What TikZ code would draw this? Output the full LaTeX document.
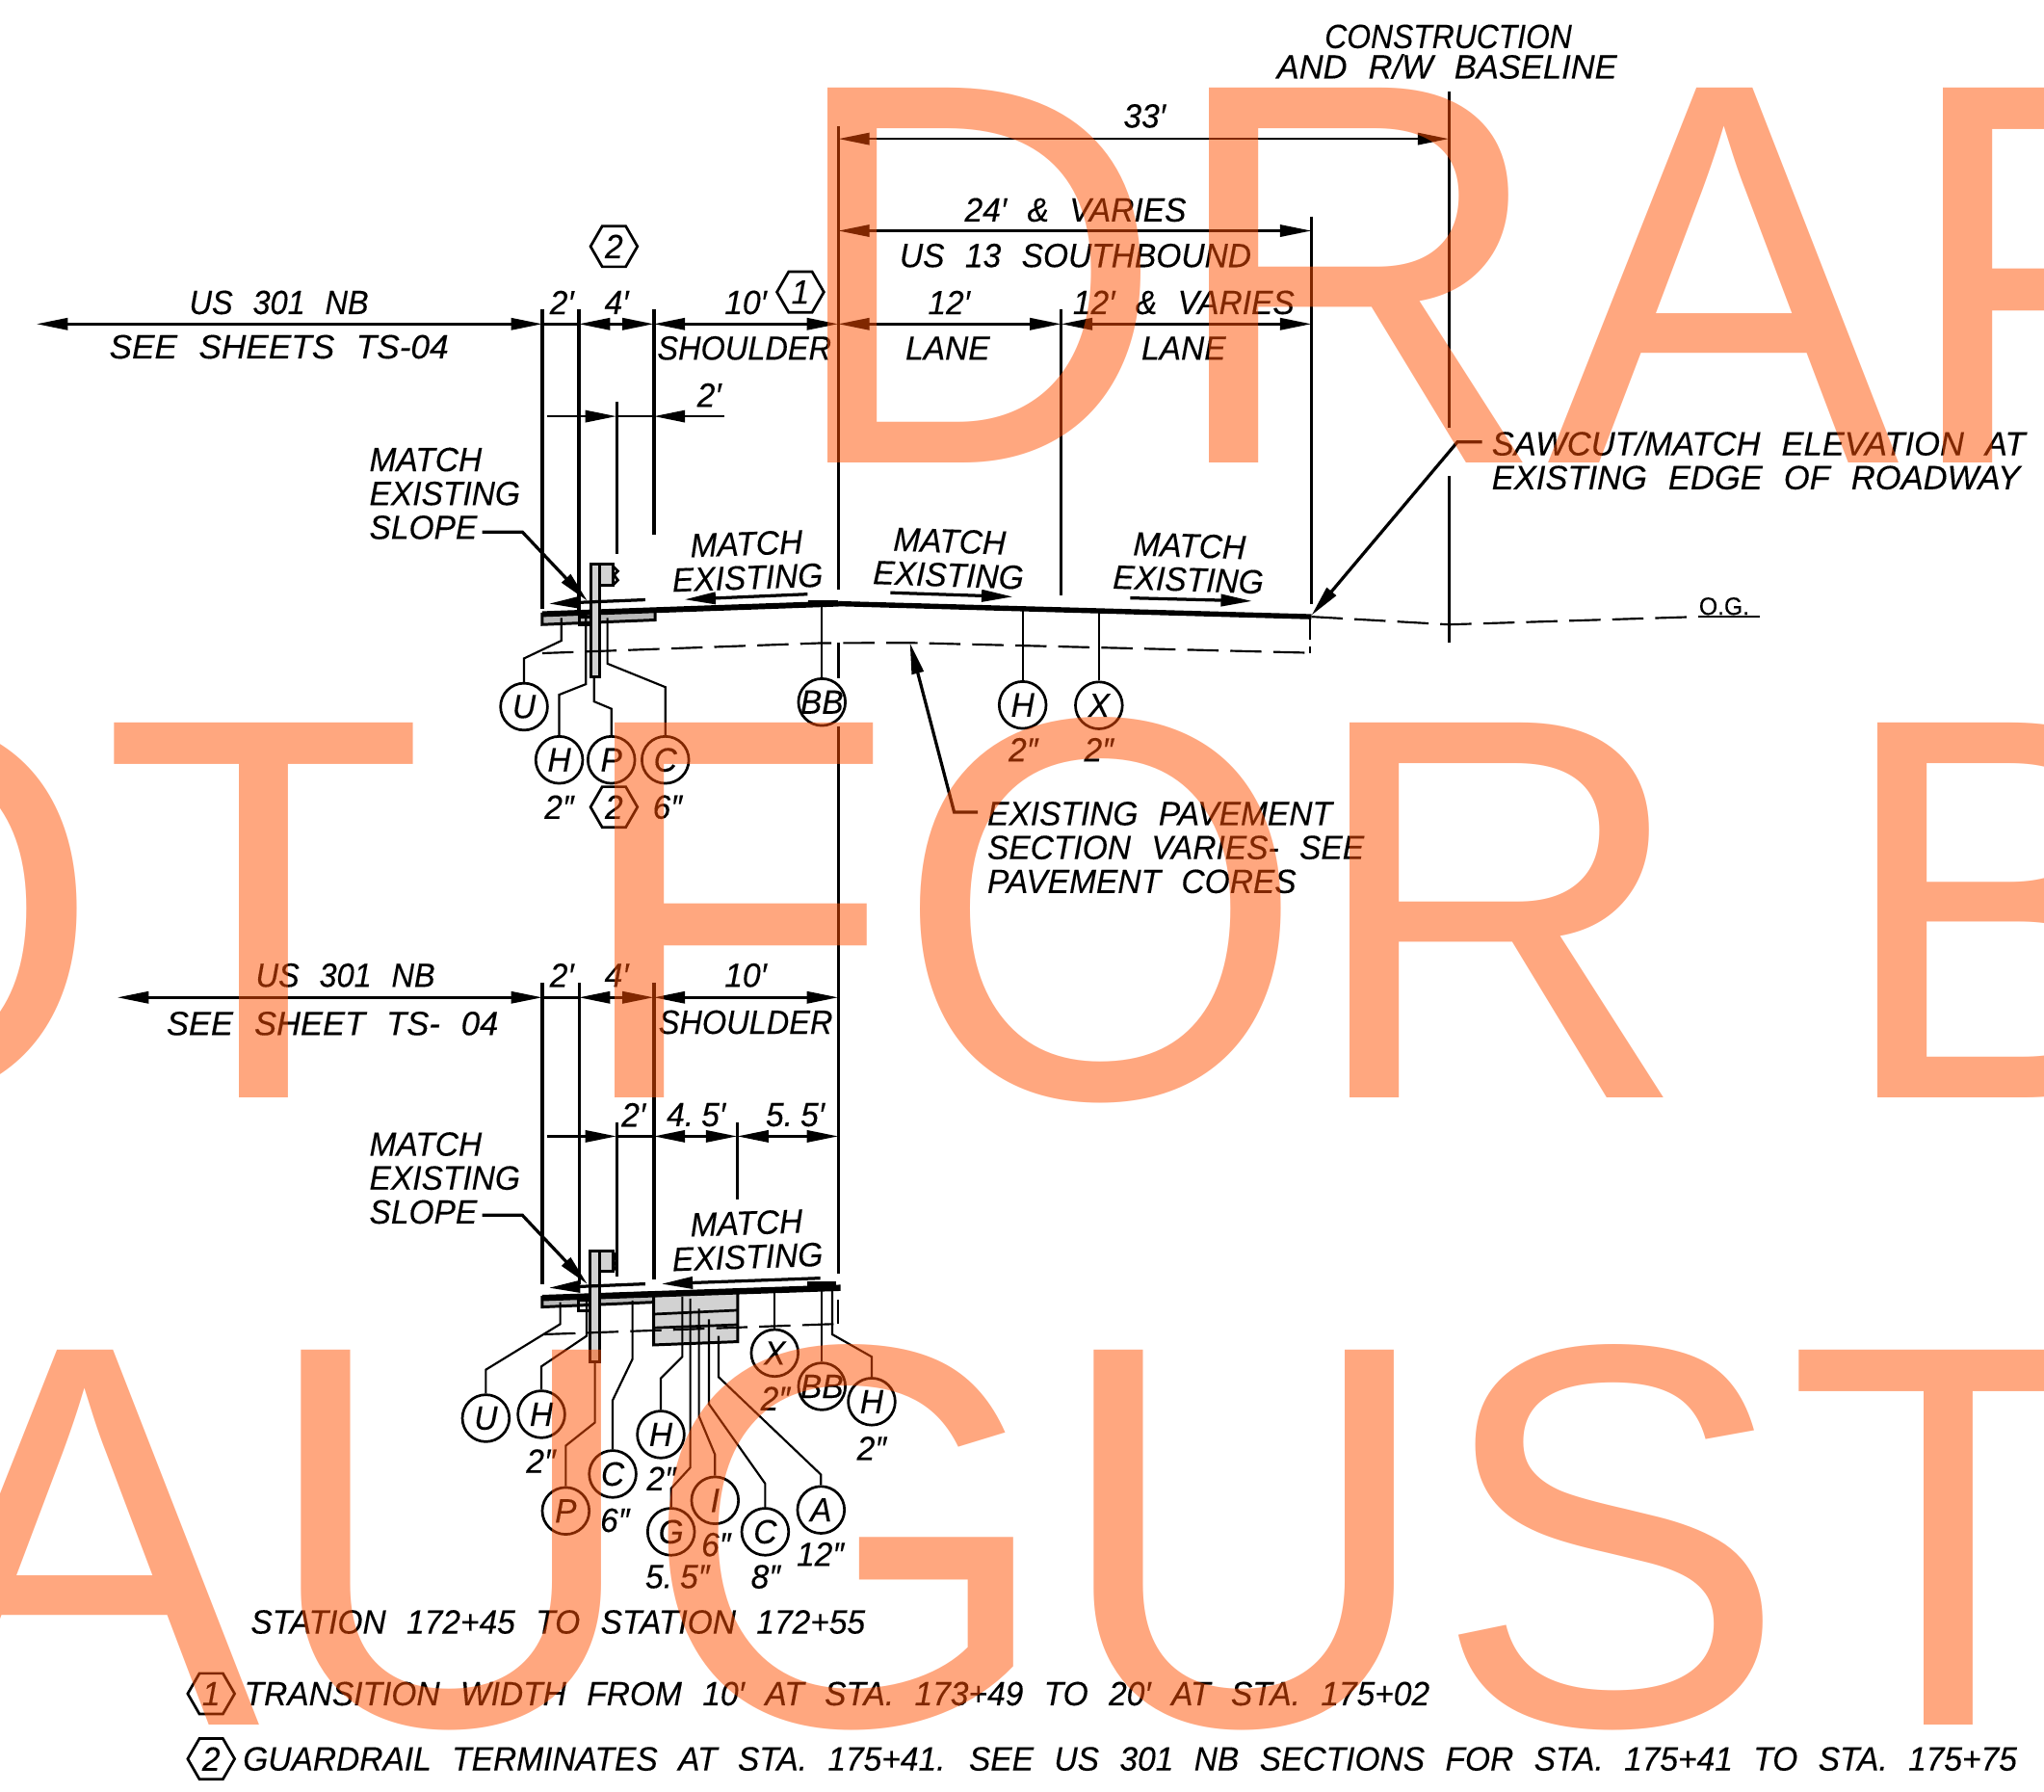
\documentclass[tikz,border=0pt]{standalone}
\usepackage{fontspec}
\setmainfont{Liberation Sans}[FakeStretch=0.96,WordSpace=2.3,FakeBold=0.25]
\newfontfamily\wmfont{Liberation Sans}
\usepackage{tikz}
\usetikzlibrary{arrows.meta,shapes.geometric}
\definecolor{wmark}{RGB}{255,79,0}
\tikzset{
  lbl/.style={inner sep=0pt,font=\fontsize{12.9}{13}\selectfont\itshape,align=left},
  tag/.style={circle,draw,line width=1pt,minimum size=18pt,inner sep=0pt,font=\fontsize{12.9}{13}\selectfont\itshape},
  hexmark/.style={regular polygon,regular polygon sides=6,draw,line width=1pt,minimum size=18pt,inner sep=0pt,font=\fontsize{12.9}{13}\selectfont\itshape},
  extln/.style={line width=1.2pt},
  dimln/.style={line width=1pt,<->},
  plainln/.style={line width=1pt},
  leader/.style={line width=.8pt},
  slopeln/.style={line width=1.2pt,->},
  exdash/.style={line width=.8pt,dash pattern=on 12pt off 4.5pt},
  part/.style={draw,line width=1.1pt,fill=gray!35},
  wm/.style={anchor=base west,inner sep=0pt,text=wmark,text opacity=.5,xscale=.97,transform shape,font=\wmfont\fontsize{209}{209}\selectfont}
}
\begin{document}
\begin{tikzpicture}[x=.5pt,y=-.5pt,>={Triangle[length=12pt,width=4.5pt]}]
  \useasboundingbox (0,0) rectangle (1568,1374);
  \clip (0,0) rectangle (1568,1374);

  % extension lines
  \coordinate (xa) at (416,0);
  \coordinate (xb) at (444,0);
  \coordinate (xc) at (473,0);
  \coordinate (xd) at (501.5,0);
  \coordinate (xk) at (565.5,0);
  \coordinate (xe) at (643,0);
  \coordinate (xf) at (814,0);
  \coordinate (xg) at (1006,0);
  \coordinate (xh) at (1111.5,0);
  \coordinate (ra) at (0,106.5);
  \coordinate (rb) at (0,177);
  \coordinate (rc) at (0,248.5);
  \coordinate (rd) at (0,319.3);
  \coordinate (re) at (0,765);
  \coordinate (rf) at (0,871.5);

  \draw[extln] (416,237) -- (416,467);
  \draw[extln,line width=1.4pt] (444,237) -- (444,470);
  \draw[extln] (473,308) -- (473,425);
  \draw[extln,line width=1.4pt] (501.5,237) -- (501.5,410);
  \draw[extln] (643,97) -- (643,452);
  \draw[extln] (643,493) -- (643,520);
  \draw[extln] (643,557) -- (643,977);
  \draw[extln] (814,237) -- (814,457);
  \draw[extln] (1006,166) -- (1006,463);
  \draw[extln] (1111.5,70) -- (1111.5,328);
  \draw[extln] (1111.5,365) -- (1111.5,493);
  \draw[extln] (416,754) -- (416,985);
  \draw[extln,line width=1.4pt] (444.5,754) -- (444.5,985);
  \draw[extln] (473,861) -- (473,979);
  \draw[extln,line width=1.4pt] (501.5,754) -- (501.5,981);
  \draw[extln] (565.5,861) -- (565.5,920);

  % dimension rows
  \draw[dimln] (xe |- ra) -- (xh |- ra);
  \draw[dimln] (xe |- rb) -- (xg |- rb);
  \draw[dimln] (28,248.5) -- (xa |- rc);
  \draw[plainln] (xa |- rc) -- (xb |- rc);
  \draw[dimln] (xb |- rc) -- (xd |- rc);
  \draw[dimln] (xd |- rc) -- (xe |- rc);
  \draw[dimln] (xe |- rc) -- (xf |- rc);
  \draw[dimln] (xf |- rc) -- (xg |- rc);
  \draw[plainln,->] (420,319.3) -- (xc |- rd);
  \draw[plainln] (xc |- rd) -- (xd |- rd);
  \draw[plainln,->] (555.5,319.3) -- (xd |- rd);
  \draw[dimln] (90,765) -- (xa |- re);
  \draw[plainln] (xa |- re) -- (xb |- re);
  \draw[dimln] (xb |- re) -- (xd |- re);
  \draw[dimln] (xd |- re) -- (xe |- re);
  \draw[plainln,->] (420,871.5) -- (xc |- rf);
  \draw[plainln] (xc |- rf) -- (xd |- rf);
  \draw[dimln] (xd |- rf) -- (xk |- rf);
  \draw[dimln] (xk |- rf) -- (xe |- rf);

  % upper section
  \draw[part,fill=gray!55] (416,471) -- (502.5,467.5) -- (502.5,475.5) -- (416,479) -- cycle;
  \draw[part,fill=none] (444.6,473) rectangle (453,479);
  \draw[line width=2.2pt] (416,471) -- (643,463);
  \draw[line width=2pt] (643,463) -- (1006,473);
  \fill (620,460) rectangle (643,463.5);
  \draw[part] (453,433) rectangle (460,519);
  \draw[part] (460,433) rectangle (470,449);
  \draw[plainln] (470,434) -- (474,438) -- (471,441) -- (474,445) -- (470,449);
  \draw[exdash] (416,501) -- (630,493.2) -- (697.6,493) -- (1005,500.7);
  \draw[leader] (1005,473) -- (1005,491);
  \draw[leader] (1005,496) -- (1005,501);
  \draw[exdash] (1006,473) -- (1111.5,479) -- (1303,473);
  \draw[leader] (1303,473) -- (1350,473);
  \node[inner sep=0pt,anchor=base west,font=\fontsize{9.5}{10}\selectfont] (oglbl) at (1303,471.5) {O.G.};
  \draw[slopeln] (495,460) -- (421,463);
  \draw[slopeln] (619.5,455.7) -- (525,459.8);
  \draw[slopeln] (683,454.6) -- (777,457.7);
  \draw[slopeln] (867,458.6) -- (960.6,461);

  \node[tag] (tagU) at (402,542) {U};
  \node[tag] (tagH) at (429,582.8) {H};
  \node[tag] (tagP) at (469,582.8) {P};
  \node[tag] (tagC) at (510.4,582.8) {C};
  \node[tag] (tagBB) at (630.5,538.5) {\makebox[0pt]{BB}};
  \node[tag] (tagHb) at (784.5,540.7) {H};
  \node[tag] (tagX) at (843,541) {X};
  \draw[leader] (tagU) -- (402,505) -- (430.6,491.4) -- (430.6,474);
  \draw[leader] (tagH) -- (429,532.8) -- (449.5,524.7) -- (449.5,474);
  \draw[leader] (tagP) -- (469,543.6) -- (455.7,538) -- (455.7,518.5);
  \draw[leader] (tagC) -- (510.4,527) -- (466,509) -- (466,474);
  \draw[leader] (tagBB) -- (630.5,462);
  \draw[leader] (tagHb) -- (784.5,467);
  \draw[leader] (tagX) -- (843,469);

  \node[lbl] (thkH) at (429,619) {2″};
  \node[hexmark] (hexPa) at (471,619) {2};
  \node[lbl] (thkC) at (512,619) {6″};
  \node[lbl] (thkHb) at (785,575) {2″};
  \node[lbl] (thkX) at (843,575) {2″};

  \node[lbl,xscale=.95,transform shape] (conlbl) at (1111,28) {CONSTRUCTION};
  \node[lbl,xscale=1.03,transform shape] (bllbl) at (1110,51) {AND R/W BASELINE};
  \node[lbl] (dimall) at (878,89) {33′};
  \node[lbl] (dimus) at (825,161) {24′ \& VARIES};
  \node[lbl] (uslbl) at (825,196) {US 13 SOUTHBOUND};
  \node[lbl] (dimla) at (728,232) {12′};
  \node[lbl] (lanea) at (727,267) {LANE};
  \node[lbl] (dimlb) at (908,232) {12′ \& VARIES};
  \node[lbl] (laneb) at (908,267) {LANE};
  \node[lbl,xscale=.97,transform shape] (nba) at (214,232) {US 301 NB};
  \node[lbl,xscale=1.05,transform shape] (seea) at (214,266) {SEE SHEETS TS-04};
  \node[lbl] (dima) at (431,232) {2′};
  \node[lbl] (dimb) at (473,232) {4′};
  \node[lbl] (dimc) at (572,232) {10′};
  \node[lbl,xscale=.97,transform shape] (shlda) at (571,267) {SHOULDER};
  \node[hexmark] (hexa) at (614,224) {1};
  \node[hexmark] (hexb) at (471,189) {2};
  \node[lbl] (dimd) at (544,303) {2′};
  \node[lbl,anchor=west] (slopea) at (283,378.5) {MATCH\\EXISTING\\SLOPE};
  \node[lbl,align=center,rotate=2] (mea) at (573,430) {MATCH\\EXISTING};
  \node[lbl,align=center,rotate=-2] (meb) at (728,428) {MATCH\\EXISTING};
  \node[lbl,align=center,rotate=-2] (mec) at (912,431.5) {MATCH\\EXISTING};
  \node[lbl,anchor=west,xscale=1.03,transform shape] (sawcut) at (1144,353) {SAWCUT/MATCH ELEVATION AT\\EXISTING EDGE OF ROADWAY};
  \node[lbl,anchor=west] (exnote) at (757,650) {EXISTING PAVEMENT\\SECTION VARIES- SEE\\PAVEMENT CORES};
  \coordinate (slopetipa) at (450.7,461);
  \coordinate (sawtip) at (1006,472);
  \coordinate (extip) at (698,493);
  \draw[extln,->] (370,408) -- (400.7,408) -- (slopetipa);
  \draw[extln,->] (1137,339) -- (1118,339) -- (sawtip);
  \draw[extln,->] (750,623) -- (732,623) -- (extip);

  % lower section
  \draw[part,fill=gray!55] (416,995) -- (502.5,991.4) -- (502.5,998.7) -- (416,1002.4) -- cycle;
  \draw[part,fill=none] (444,997.5) rectangle (452.7,1005);
  \draw[part] (501.5,993.8) -- (566,990.6) -- (566,1029) -- (501.5,1031.5) -- cycle;
  \draw[plainln] (501.5,1007.9) -- (566,1004.9);
  \draw[plainln] (501.5,1018.4) -- (566,1016);
  \draw[line width=2.4pt] (416,995.5) -- (644.8,987.7);
  \fill (619.4,982.7) rectangle (641.6,987.7);
  \draw[part] (452.7,959.3) rectangle (460,1044.3);
  \draw[part] (460,959.3) rectangle (470,975);
  \draw[plainln] (470,960) -- (473,964) -- (470.5,967) -- (473,971) -- (470,975);
  \draw[exdash] (417.5,1023.4) -- (644,1015.3);
  \draw[leader] (643,997) -- (643,1015.3);
  \draw[slopeln] (495,984.7) -- (421,987.7);
  \draw[slopeln] (629.3,980.3) -- (507.4,984.7);

  \node[tag] (lowU) at (372.7,1087.7) {U};
  \node[tag] (lowH) at (415.3,1084.7) {H};
  \node[tag] (lowP) at (434,1158.8) {P};
  \node[tag] (lowC) at (470,1130.5) {C};
  \node[tag] (lowHb) at (506.9,1100.2) {H};
  \node[tag] (lowG) at (514.8,1174.8) {G};
  \node[tag] (lowI) at (548.5,1150.7) {I};
  \node[tag] (lowCb) at (587,1174.8) {C};
  \node[tag] (lowA) at (629.8,1158) {A};
  \node[tag] (lowX) at (594.3,1037.7) {X};
  \node[tag] (lowBB) at (630.5,1063.3) {\makebox[0pt]{BB}};
  \node[tag] (lowHc) at (668.7,1075) {H};
  \draw[leader] (lowU) -- (372.7,1050.5) -- (429.8,1015.5) -- (429.8,998.7);
  \draw[leader] (lowH) -- (415.3,1048) -- (450,1024.6) -- (450,997.5);
  \draw[leader] (lowP) -- (434,1108.8) -- (456.4,1091) -- (456.4,1044.3);
  \draw[leader] (lowC) -- (470,1073.9) -- (485.2,1042.3) -- (485.2,997.5);
  \draw[leader] (lowHb) -- (506.9,1057.1) -- (523.4,1040.6) -- (523.4,994.6);
  \draw[leader] (lowG) -- (514.8,1141.6) -- (529.5,1125.6) -- (529.5,996);
  \draw[leader] (lowI) -- (548.5,1115.7) -- (536.2,1086.2) -- (536.2,1003.7);
  \draw[leader] (lowCb) -- (587,1137.9) -- (543.8,1076.8) -- (543.8,1011.8);
  \draw[leader] (lowA) -- (629.8,1131) -- (551.2,1056.1) -- (551.2,1024.6);
  \draw[leader] (lowX) -- (594.3,991);
  \draw[leader] (lowBB) -- (630.5,990);
  \draw[leader] (lowHc) -- (668.7,1040.6) -- (638.4,1023.4) -- (638.4,990);

  \node[lbl] (lowthkH) at (415,1120.6) {2″};
  \node[lbl] (lowthkC) at (471.7,1166) {6″};
  \node[lbl] (lowthkHb) at (507.4,1134) {2″};
  \node[lbl] (lowthkG) at (519.7,1209.3) {5.\kern3pt5″};
  \node[lbl] (lowthkI) at (549.3,1184.7) {6″};
  \node[lbl] (lowthkCb) at (587.4,1209.3) {8″};
  \node[lbl] (lowthkA) at (629.3,1192) {12″};
  \node[lbl] (lowthkX) at (594.8,1072.6) {2″};
  \node[lbl] (lowthkHc) at (668.7,1110.8) {2″};

  \node[lbl,xscale=.97,transform shape] (nbb) at (265,748) {US 301 NB};
  \node[lbl,xscale=1.03,transform shape] (seeb) at (255,785) {SEE SHEET TS- 04};
  \node[lbl] (lowdima) at (431,748) {2′};
  \node[lbl] (lowdimb) at (473,748) {4′};
  \node[lbl] (lowdimc) at (572,748) {10′};
  \node[lbl,xscale=.97,transform shape] (shldb) at (572,784) {SHOULDER};
  \node[lbl] (lowdimd) at (486,855) {2′};
  \node[lbl] (lowdime) at (534,855) {4.\kern3pt5′};
  \node[lbl] (lowdimf) at (610,855) {5.\kern3pt5′};
  \node[lbl,anchor=west] (slopeb) at (283,903.5) {MATCH\\EXISTING\\SLOPE};
  \node[lbl,align=center,rotate=2] (med) at (573,951) {MATCH\\EXISTING};
  \coordinate (slopetipb) at (450.7,985);
  \draw[extln,->] (370,932) -- (400.7,932) -- (slopetipb);

  % notes
  \node[lbl,anchor=west] (station) at (192,1244) {STATION 172+45 TO STATION 172+55};
  \node[hexmark] (notea) at (162,1299) {1};
  \node[lbl,anchor=west] (notetxta) at (187,1299) {TRANSITION WIDTH FROM 10′ AT STA. 173+49 TO 20′ AT STA. 175+02};
  \node[hexmark] (noteb) at (162,1349) {2};
  \node[lbl,anchor=west] (notetxtb) at (186,1349) {GUARDRAIL TERMINATES AT STA. 175+41. SEE US 301 NB SECTIONS FOR STA. 175+41 TO STA. 175+75};

  % watermark
  \node[wm] (wma) at (601.5,355) {DRAF};
  \node[wm] (wmb) at (-237,842) {OT FOR B};
  \node[wm] (wmc) at (-71,1323) {AUGUST};
\end{tikzpicture}
\end{document}
